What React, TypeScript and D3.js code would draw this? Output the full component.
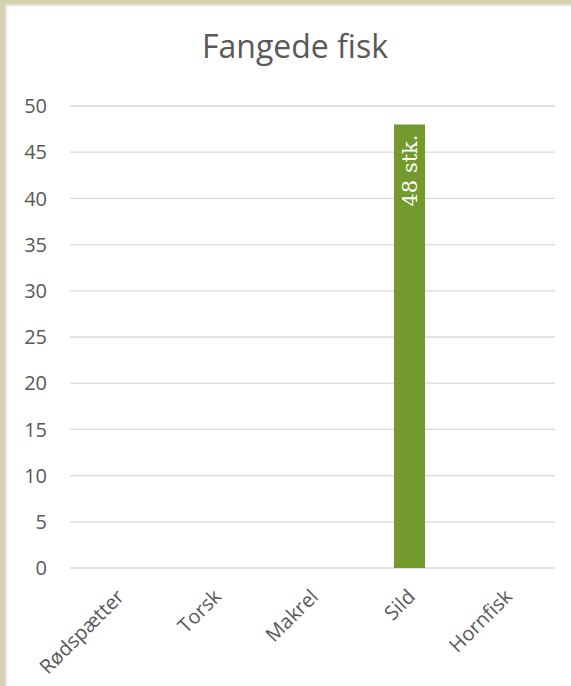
import React, { useRef, useEffect } from "react";
import * as d3 from "d3";

const categories = ["Rødspætter", "Torsk", "Makrel", "Sild", "Hornfisk"];
const values = [0, 0, 0, 48, 0];
const yTicks = [0, 5, 10, 15, 20, 25, 30, 35, 40, 45, 50];
const barLabels = ["", "", "", "48 stk.", ""];
const title = "Fangede fisk";

const W = 571;
const H = 686;

const App = () => {
  const ref = useRef<SVGSVGElement>(null);

  useEffect(() => {
    if (!ref.current) return;
    const svg = d3.select(ref.current);
    svg.selectAll("*").remove();

    const margin = { top: 106, right: 16, bottom: 118, left: 70 };
    const width = W - margin.left - margin.right;
    const height = H - margin.top - margin.bottom;

    // background and frame
    svg.append("rect").attr("width", W).attr("height", H).attr("fill", "#d6d1b1");
    svg.append("rect").attr("x", 5).attr("y", 4).attr("width", W - 5).attr("height", H - 4).attr("fill", "#e3e3e3");
    svg.append("rect").attr("x", 7).attr("y", 6).attr("width", W - 7).attr("height", H - 6).attr("fill", "#ffffff");

    svg
      .append("text")
      .attr("x", 295)
      .attr("y", 58)
      .attr("text-anchor", "middle")
      .attr("font-family", "'Open Sans', sans-serif")
      .attr("font-size", 32)
      .attr("fill", "#595959")
      .text(title);

    const g = svg.append("g").attr("transform", `translate(${margin.left},${margin.top})`);

    const x = d3.scaleBand().domain(categories).range([0, width]).paddingInner(0.68).paddingOuter(0.34);
    const y = d3.scaleLinear().domain([0, 50]).range([height, 0]);

    // gridlines
    g.selectAll(".grid")
      .data(yTicks)
      .enter()
      .append("line")
      .attr("x1", 0)
      .attr("x2", width)
      .attr("y1", (d) => y(d))
      .attr("y2", (d) => y(d))
      .attr("stroke", "#d9d9d9")
      .attr("stroke-width", 1.3);

    // y labels
    g.selectAll(".ytick")
      .data(yTicks)
      .enter()
      .append("text")
      .attr("x", -23)
      .attr("y", (d) => y(d))
      .attr("dy", "0.36em")
      .attr("text-anchor", "end")
      .attr("font-family", "'Open Sans', sans-serif")
      .attr("font-size", 20)
      .attr("fill", "#595959")
      .text((d) => d);

    // bars
    g.selectAll(".bar")
      .data(values)
      .enter()
      .append("rect")
      .attr("x", (_, i) => x(categories[i]) as number)
      .attr("y", (d) => y(d))
      .attr("width", x.bandwidth())
      .attr("height", (d) => height - y(d))
      .attr("fill", "#739a2c");

    // bar labels
    g.selectAll(".blabel")
      .data(values)
      .enter()
      .append("text")
      .attr("transform", (d, i) => {
        const cx = (x(categories[i]) as number) + x.bandwidth() / 2;
        return `translate(${cx},${y(d) + 10}) rotate(-90)`;
      })
      .attr("dy", "0.36em")
      .attr("text-anchor", "end")
      .attr("font-family", "'DejaVu Serif', 'Liberation Serif', serif")
      .attr("font-size", 21)
      .attr("fill", "#ffffff")
      .text((_, i) => barLabels[i]);

    // x labels
    const band = width / categories.length;
    g.selectAll(".xlabel")
      .data(categories)
      .enter()
      .append("text")
      .attr("transform", (_, i) => `translate(${band * (i + 0.5) - 3},${height + 20}) rotate(-45)`)
      .attr("text-anchor", "end")
      .attr("dy", "0.7em")
      .attr("font-family", "'Open Sans', sans-serif")
      .attr("font-size", 20)
      .attr("fill", "#595959")
      .text((d) => d);
  }, []);

  return (
    <div style={{ position: "fixed", top: 0, left: 0 }}>
      <svg ref={ref} width={W} height={H} style={{ display: "block" }} />
    </div>
  );
};

export default App;
